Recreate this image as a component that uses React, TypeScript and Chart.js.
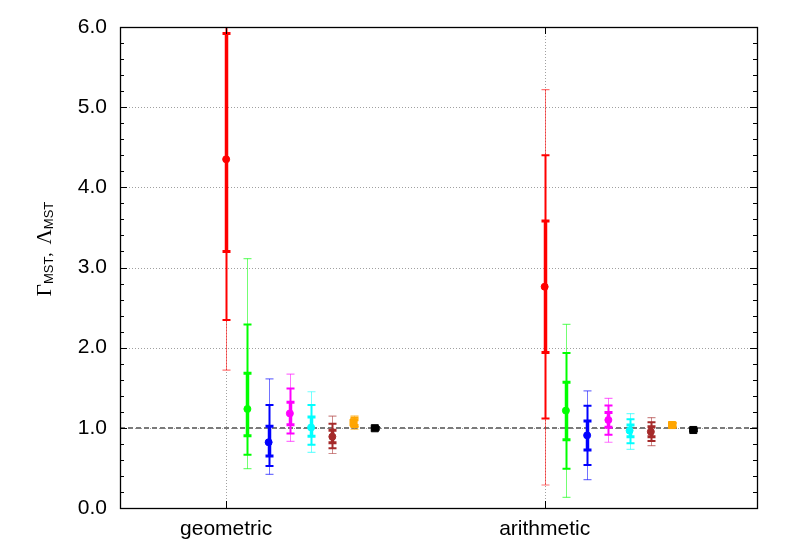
import React, { useEffect, useRef } from "react";
import { Chart, registerables } from "chart.js";

Chart.register(...registerables);

// ---- Data ----
const categories = ["geometric", "arithmetic"];
const categoryX = [0.5, 2.0];
const seriesOffsets = [0, 0.1, 0.2, 0.3, 0.4, 0.5, 0.6, 0.7];
const seriesColors = ["#ff0000", "#00ff00", "#0000ff", "#ff00ff", "#00ffff", "#a52a2a", "#ffa500", "#000000"];
const seriesThinColors = ["rgba(255,0,0,0.55)", "rgba(0,255,0,0.55)", "rgba(0,0,255,0.55)", "rgba(255,0,255,0.55)", "rgba(0,255,255,0.55)", "rgba(165,42,42,0.55)", "rgba(255,165,0,0.55)", "rgba(0,0,0,0.55)"];
const seriesMarkers = ["circle", "circle", "circle", "circle", "circle", "circle", "rect", "rect"];

// geometric
const geoMid = [4.35, 1.235, 0.82, 1.18, 1.005, 0.89, 1.065, 0.995];
const geoThickLo = [3.2, 0.9, 0.65, 1.04, 0.895, 0.815, 1.03, 0.985];
const geoThickHi = [5.92, 1.68, 1.02, 1.32, 1.135, 0.97, 1.1, 1.005];
const geoMedLo = [2.345, 0.665, 0.524, 0.93, 0.79, 0.745, 1.01, 0.98];
const geoMedHi = [8.07, 2.29, 1.285, 1.49, 1.285, 1.05, 1.13, 1.01];
const geoThinLo = [1.72, 0.49, 0.42, 0.83, 0.695, 0.68, 0.98, 0.975];
const geoThinHi = [11.0, 3.11, 1.61, 1.67, 1.45, 1.145, 1.15, 1.015];

// arithmetic
const ariMid = [2.76, 1.215, 0.906, 1.098, 0.965, 0.952, 1.035, 0.973];
const ariThickLo = [1.94, 0.85, 0.723, 1.006, 0.89, 0.89, 1.02, 0.965];
const ariThickHi = [3.58, 1.57, 1.085, 1.19, 1.035, 1.015, 1.05, 0.981];
const ariMedLo = [1.115, 0.49, 0.536, 0.915, 0.807, 0.835, 1.01, 0.96];
const ariMedHi = [4.4, 1.935, 1.276, 1.28, 1.106, 1.069, 1.06, 0.986];
const ariThinLo = [0.287, 0.133, 0.353, 0.82, 0.732, 0.777, 1.0, 0.955];
const ariThinHi = [5.22, 2.29, 1.46, 1.368, 1.177, 1.127, 1.07, 0.99];

const refLineValue = 1.0;
const yMin = 0;
const yMax = 6;
const xMin = 0;
const xMax = 3;

const mids = [geoMid, ariMid];
const ranges = [
  { thin: [geoThinLo, geoThinHi], med: [geoMedLo, geoMedHi], thick: [geoThickLo, geoThickHi] },
  { thin: [ariThinLo, ariThinHi], med: [ariMedLo, ariMedHi], thick: [ariThickLo, ariThickHi] },
];

const SANS = "'Liberation Sans', Arial, sans-serif";
const SERIF = "'Liberation Serif', 'Times New Roman', serif";

const bgPlugin = {
  id: "decor",
  beforeDatasetsDraw(chart: any) {
    const { ctx, chartArea, scales } = chart;
    const x = scales.x;
    const y = scales.y;
    ctx.save();
    ctx.beginPath();
    ctx.rect(chartArea.left, chartArea.top, chartArea.right - chartArea.left, chartArea.bottom - chartArea.top);
    ctx.clip();

    // dotted grid
    ctx.strokeStyle = "#a0a0a0";
    ctx.lineWidth = 1;
    ctx.setLineDash([1, 2]);
    y.ticks.forEach((t: any) => {
      if (t.value <= yMin || t.value >= yMax) return;
      const py = Math.round(y.getPixelForValue(t.value)) + 0.5;
      ctx.beginPath();
      ctx.moveTo(chartArea.left, py);
      ctx.lineTo(chartArea.right, py);
      ctx.stroke();
    });
    x.ticks.forEach((t: any) => {
      const px = Math.round(x.getPixelForValue(t.value)) + 0.5;
      ctx.beginPath();
      ctx.moveTo(px, chartArea.top);
      ctx.lineTo(px, chartArea.bottom);
      ctx.stroke();
    });

    // reference dashed line
    ctx.strokeStyle = "#7a7a7a";
    ctx.lineWidth = 2;
    ctx.setLineDash([5, 3]);
    const ry = Math.round(y.getPixelForValue(refLineValue));
    ctx.beginPath();
    ctx.moveTo(chartArea.left, ry);
    ctx.lineTo(chartArea.right, ry);
    ctx.stroke();
    ctx.setLineDash([]);

    // error bars
    const capHalf = 4;
    const drawBar = (px: number, lo: number, hi: number, color: string, lw: number, capLw: number) => {
      const pLo = y.getPixelForValue(lo);
      const pHi = y.getPixelForValue(hi);
      ctx.strokeStyle = color;
      ctx.lineWidth = lw;
      ctx.beginPath();
      ctx.moveTo(px, pLo);
      ctx.lineTo(px, pHi);
      ctx.stroke();
      ctx.lineWidth = capLw;
      ctx.beginPath();
      ctx.moveTo(px - capHalf, pLo);
      ctx.lineTo(px + capHalf, pLo);
      ctx.moveTo(px - capHalf, pHi);
      ctx.lineTo(px + capHalf, pHi);
      ctx.stroke();
    };
    categoryX.forEach((cx, c) => {
      const r = ranges[c];
      seriesOffsets.forEach((off, i) => {
        const px = Math.round(x.getPixelForValue(cx + off)) + 0.5;
        drawBar(px, r.thin[0][i], r.thin[1][i], seriesThinColors[i], 1, 1.2);
        drawBar(px, r.med[0][i], r.med[1][i], seriesColors[i], 2, 2);
        drawBar(px, r.thick[0][i], r.thick[1][i], seriesColors[i], 3.5, 3);
      });
    });
    ctx.restore();
  },
  afterDraw(chart: any) {
    const { ctx, chartArea, scales } = chart;
    const x = scales.x;
    const y = scales.y;
    const { left, right, top, bottom } = chartArea;
    ctx.save();
    // ticks
    ctx.strokeStyle = "#000";
    ctx.lineWidth = 1;
    for (let k = 0; k <= 30; k++) {
      const v = yMin + k * 0.2;
      const py = Math.round(y.getPixelForValue(v)) + 0.5;
      const len = k % 5 === 0 ? 7 : 4;
      ctx.beginPath();
      ctx.moveTo(left, py);
      ctx.lineTo(left + len, py);
      ctx.moveTo(right, py);
      ctx.lineTo(right - len, py);
      ctx.stroke();
    }
    x.ticks.forEach((t: any) => {
      const px = Math.round(x.getPixelForValue(t.value)) + 0.5;
      ctx.beginPath();
      ctx.moveTo(px, bottom);
      ctx.lineTo(px, bottom - 7);
      ctx.moveTo(px, top);
      ctx.lineTo(px, top + 7);
      ctx.stroke();
    });
    // frame
    ctx.lineWidth = 1.3;
    ctx.strokeStyle = "#000";
    ctx.strokeRect(Math.round(left) + 0.5, Math.round(top) + 0.5, Math.round(right - left), Math.round(bottom - top));

    // y title
    ctx.translate(44, 249);
    ctx.rotate(-Math.PI / 2);
    const parts = [
      { t: "\u0393", f: `21px ${SERIF}`, dy: 0, gap: 0 },
      { t: "MST", f: `13px ${SANS}`, dy: 2, gap: 0 },
      { t: ",", f: `17px ${SERIF}`, dy: 0, gap: 8 },
      { t: "\u039B", f: `21px ${SERIF}`, dy: 0, gap: 0 },
      { t: "MST", f: `13px ${SANS}`, dy: 2, gap: 0 },
    ];
    let total = 0;
    parts.forEach((p) => {
      ctx.font = p.f;
      total += ctx.measureText(p.t).width + p.gap;
    });
    let cx = -total / 2;
    ctx.fillStyle = "#000";
    ctx.textBaseline = "alphabetic";
    parts.forEach((p) => {
      ctx.font = p.f;
      ctx.fillText(p.t, cx, 7 + p.dy);
      cx += ctx.measureText(p.t).width + p.gap;
    });
    ctx.restore();
  },
};

export default function App() {
  const ref = useRef<HTMLCanvasElement>(null);
  useEffect(() => {
    document.body.style.margin = "0";
    const canvas = ref.current;
    if (!canvas) return;
    const datasets = seriesColors.map((col, i) => ({
      label: `series ${i + 1}`,
      data: categoryX.map((cx, c) => ({ x: cx + seriesOffsets[i], y: mids[c][i] })),
      backgroundColor: col,
      borderColor: col,
      pointStyle: seriesMarkers[i],
      pointRadius: seriesMarkers[i] === "rect" ? 5 : 3.5,
      pointBorderWidth: 1,
      showLine: false,
    }));
    const chart = new Chart(canvas, {
      type: "scatter",
      data: { datasets },
      options: {
        animation: false,
        responsive: false,
        maintainAspectRatio: false,
        layout: { padding: { left: 0, right: 32, top: 27, bottom: 0 } },
        plugins: { legend: { display: false }, tooltip: { enabled: false } },
        scales: {
          x: {
            type: "linear",
            min: xMin,
            max: xMax,
            afterBuildTicks: (ax: any) => {
              ax.ticks = categoryX.map((v) => ({ value: v }));
            },
            afterFit: (ax: any) => {
              ax.height = 44;
            },
            ticks: {
              autoSkip: false,
              maxRotation: 0,
              padding: 9,
              color: "#000",
              font: { family: SANS, size: 21 },
              callback: (v: any) => {
                const idx = categoryX.indexOf(Number(v));
                return idx >= 0 ? categories[idx] : "";
              },
            },
            grid: { display: false, drawTicks: false },
            border: { display: false },
          },
          y: {
            type: "linear",
            min: yMin,
            max: yMax,
            afterFit: (ax: any) => {
              ax.width = 120;
            },
            ticks: {
              stepSize: 1,
              padding: 13,
              color: "#000",
              font: { family: SANS, size: 21 },
              callback: (v: any) => Number(v).toFixed(1),
            },
            grid: { display: false, drawTicks: false },
            border: { display: false },
          },
        },
      },
      plugins: [bgPlugin],
    } as any);
    return () => chart.destroy();
  }, []);
  return (
    <div style={{ width: 789, height: 552, background: "#fff" }}>
      <canvas ref={ref} width={789} height={552} style={{ display: "block" }} />
    </div>
  );
}
